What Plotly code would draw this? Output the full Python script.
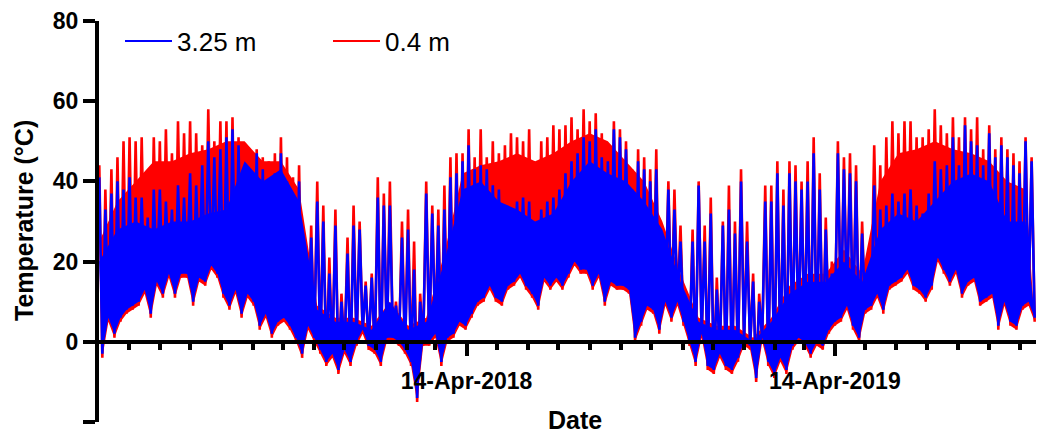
import plotly.graph_objects as go
import pandas as pd

# ---- data ----
START = "2017-04-15"
STEP_DAYS = 6        # one window = 6 days; window max, then window min
BAND_STEP_DAYS = 18  # spacing of the "solid band top" readings

# 0.4 m (red): window maxima / minima
R_HI = [44, 38, 43, 46, 50, 51, 50, 51, 38, 51, 50, 53, 47, 55, 52, 55, 52, 49, 58, 50, 55, 55,
        56, 51, 32, 44, 48, 46, 45, 47, 51, 46, 41, 44, 24, 29, 40, 34, 21, 33, 12, 26, 34, 30,
        15, 17, 41, 37, 40, 10, 30, 33, 25, 12, 40, 34, 33, 39, 46, 47, 47, 53, 46, 53, 46, 50, 47,
        49, 52, 51, 50, 53, 40, 50, 51, 54, 53, 54, 56, 53, 58, 55, 57, 52, 49, 55, 53, 50, 43,
        48, 46, 43, 48, 25, 40, 38, 29, 12, 28, 40, 29, 36, 16, 30, 39, 30, 43, 30, 17, 12, 39, 39,
        45, 38, 45, 44, 40, 45, 51, 42, 31, 20, 50, 46, 47, 44, 30, 16, 49, 44, 51, 55, 52, 55,
        55, 51, 51, 53, 58, 54, 52, 56, 51, 56, 53, 56, 48, 54, 48, 51, 48, 47, 45, 51, 46]
R_LO = [-4, 5, 1, 5, 7, 8, 9, 12, 6, 14, 11, 16, 11, 16, 16, 9, 15, 14, 18, 16, 11, 8,
        12, 6, 11, 9, 3, 6, 1, 4, 5, 3, 0, -4, 3, 0, -3, -6, -4, -8, -3, -6, -1, 2,
        -2, -3, -6, 0, 0, -1, -3, -6, -15, -1, -1, 1, -6, 0, 1, 4, 3, 6, 9, 10, 13, 10, 9,
        13, 14, 16, 13, 11, 8, 15, 13, 15, 13, 16, 19, 17, 17, 13, 16, 9, 14, 13, 13, 12, 0,
        4, 8, 7, 2, 9, 5, 9, 4, -1, -6, 1, -7, -8, -4, -7, -8, -5, -1, -2, -10, 0, -6, -9,
        -5, -8, -2, 0, -1, -4, -1, -2, 2, 4, 5, 8, 3, 0, 7, 8, 11, 7, 13, 14, 15, 17,
        13, 12, 10, 13, 20, 17, 14, 17, 11, 14, 15, 9, 10, 11, 3, 9, 4, 3, 8, 9, 5]
# 0.4 m: top of the solid (densely filled) part of the trace
R_BAND = [25, 35, 40, 45, 45, 47, 48, 50, 50, 45, 45, 38, 9, 6, 6, 4, 10, 4, 6, 22,
          42, 44, 45, 47, 45, 47, 50, 52, 50, 45, 40, 30, 17, 6, 4, 4, 1, 6, 14, 17,
          17, 23, 17, 40, 47, 48, 50, 48, 47, 45, 40, 38]

# 3.25 m (blue): window maxima / minima
B_HI = [41, 33, 37, 40, 38, 41, 36, 36, 31, 38, 38, 35, 33, 39, 36, 42, 39, 44, 50, 46, 48, 51,
        53, 49, 30, 41, 47, 43, 37, 42, 47, 40, 36, 40, 20, 26, 35, 30, 17, 29, 10, 22, 29, 28,
        14, 16, 36, 34, 34, 9, 26, 28, 18, 10, 37, 32, 29, 33, 41, 42, 45, 49, 43, 44, 43, 39, 38,
        33, 32, 35, 36, 35, 28, 33, 35, 36, 38, 42, 45, 47, 51, 50, 53, 46, 45, 53, 51, 48, 38,
        45, 43, 40, 43, 21, 38, 33, 25, 10, 25, 39, 25, 32, 13, 29, 33, 27, 40, 25, 15, 10, 35, 35,
        42, 34, 42, 40, 38, 40, 47, 38, 28, 17, 47, 43, 42, 40, 27, 13, 39, 33, 34, 37, 35, 37,
        38, 34, 32, 37, 45, 43, 44, 51, 44, 54, 50, 49, 44, 52, 46, 49, 46, 44, 42, 50, 45]
B_LO = [-3, 6, 2, 6, 8, 9, 10, 13, 7, 15, 12, 17, 12, 17, 17, 10, 16, 15, 19, 17, 12, 9,
        13, 7, 12, 10, 4, 7, 2, 5, 6, 4, 1, -3, 4, 1, -2, -5, -3, -7, -2, -5, 0, 3,
        -1, -2, -5, 1, 1, 0, -2, -5, -14, 0, 0, 2, -5, 1, 2, 5, 4, 7, 10, 11, 14, 11, 10,
        14, 15, 17, 14, 12, 9, 16, 14, 16, 14, 17, 20, 18, 18, 14, 17, 10, 15, 14, 14, 13, 1,
        5, 9, 8, 3, 10, 6, 10, 5, 0, -5, 2, -6, -7, -3, -6, -7, -4, 0, -1, -9, 1, -5, -8,
        -4, -7, -1, 1, 0, -3, 0, -1, 3, 5, 6, 9, 4, 1, 8, 9, 12, 8, 14, 15, 16, 18,
        14, 13, 11, 14, 21, 18, 15, 18, 12, 15, 16, 10, 11, 12, 4, 10, 5, 4, 9, 10, 6]
# 3.25 m: top of the solid (densely filled) part of the trace
B_BAND = [20, 28, 30, 28, 30, 30, 32, 33, 45, 40, 43, 35, 8, 5, 5, 3, 10, 3, 5, 20,
          38, 40, 35, 33, 30, 32, 40, 45, 42, 40, 35, 28, 15, 5, 3, 3, 0, 5, 12, 15,
          15, 20, 15, 28, 32, 30, 35, 40, 42, 40, 30, 30]

MAJOR_TICKS = ["2018-04-14", "2019-04-14"]
MAJOR_TEXT = ["14-Apr-2018", "14-Apr-2019"]
Y_TICKS = [-20, 0, 20, 40, 60, 80]

FONT = "Liberation Sans, Arial, sans-serif"
RED = "#ff0000"
BLUE = "#0000ff"
T0 = pd.Timestamp(START)


def zigzag(hi, lo):
    """Daily-cycle trace: window max, then window min half a window later."""
    xs, ys = [], []
    for i, (h, l) in enumerate(zip(hi, lo)):
        xs.append(T0 + pd.Timedelta(days=STEP_DAYS * i))
        ys.append(h)
        xs.append(T0 + pd.Timedelta(days=STEP_DAYS * i + STEP_DAYS / 2))
        ys.append(l)
    return xs, ys


def band(top, lo):
    """Filled region between the solid-band top and the minimum envelope."""
    xt = [T0 + pd.Timedelta(days=BAND_STEP_DAYS * k) for k in range(len(top))]
    xl = [T0 + pd.Timedelta(days=STEP_DAYS * i + STEP_DAYS / 2) for i in range(len(lo))]
    return xt + xl[::-1], list(top) + list(lo)[::-1]


fig = go.Figure()
for hi, lo, top, col in ((R_HI, R_LO, R_BAND, RED), (B_HI, B_LO, B_BAND, BLUE)):
    bx, by = band(top, lo)
    fig.add_trace(go.Scatter(x=bx, y=by, mode="lines", fill="toself", fillcolor=col,
                             line=dict(color=col, width=0), showlegend=False, hoverinfo="skip"))
    zx, zy = zigzag(hi, lo)
    fig.add_trace(go.Scatter(x=zx, y=zy, mode="lines", line=dict(color=col, width=2.6),
                             showlegend=False, hoverinfo="skip"))

# legend entries (thin line symbols)
fig.add_trace(go.Scatter(x=[None], y=[None], mode="lines", name="3.25 m", legendrank=1,
                         line=dict(color=BLUE, width=2)))
fig.add_trace(go.Scatter(x=[None], y=[None], mode="lines", name="0.4 m", legendrank=2,
                         line=dict(color=RED, width=2)))

# minor ticks on the 14th of every month
minor_vals = []
m = pd.Timestamp("2017-05-14")
while m <= pd.Timestamp("2019-10-14"):
    s = m.strftime("%Y-%m-%d")
    if s not in MAJOR_TICKS:
        minor_vals.append(s)
    m = m + pd.DateOffset(months=1)

OFF = 8                      # page body margin
W, H = 1044 - OFF, 434 - OFF
L, R, T, B = 91, 0, 13, 12
PW, PH = W - L - R, H - T - B
px_per_day = 1.009
x0 = pd.Timestamp("2017-04-14") + pd.Timedelta(days=0.7)
x1 = x0 + pd.Timedelta(days=PW / px_per_day)


def px_x(sx):   # screen x -> paper x
    return (sx - OFF - L) / PW


def px_y(sy):   # screen y -> paper y
    return (H - B - (sy - OFF)) / PH


fig.update_layout(
    width=W, height=H,
    margin=dict(l=L, r=R, t=T, b=B, autoexpand=False),
    paper_bgcolor="white", plot_bgcolor="white",
    font=dict(family=FONT, color="black"),
    showlegend=True,
    legend=dict(orientation="h", x=px_x(120), xanchor="left", y=px_y(41),
                yanchor="middle", font=dict(family=FONT, size=26, color="black"),
                itemwidth=47, entrywidth=146, entrywidthmode="pixels",
                bgcolor="rgba(0,0,0,0)"),
    xaxis=dict(type="date", range=[x0, x1], anchor="free", position=0.2,
               showline=True, linewidth=4, linecolor="black", showgrid=False, zeroline=False,
               ticks="outside", tickvals=MAJOR_TICKS, ticktext=MAJOR_TEXT,
               ticklen=12, tickwidth=3.5, tickcolor="black",
               tickfont=dict(family=FONT, size=23, color="black", weight="bold"),
               ticklabelstandoff=6,
               minor=dict(tickvals=minor_vals, ticks="outside", ticklen=6, tickwidth=3.5,
                          tickcolor="black", showgrid=False)),
    yaxis=dict(range=[-20, 80], tickvals=Y_TICKS, showline=True, linewidth=4, linecolor="black",
               showgrid=False, zeroline=False, ticks="outside", ticklen=12, tickwidth=3.5,
               tickcolor="black",
               tickfont=dict(family=FONT, size=23, color="black", weight="bold")),
    annotations=[
        dict(text="Date", xref="paper", yref="paper", x=px_x(575), y=px_y(420),
             xanchor="center", yanchor="middle", showarrow=False,
             font=dict(family=FONT, size=25, color="black", weight="bold")),
        dict(text="Temperature (°C)", xref="paper", yref="paper",
             x=px_x(24), y=px_y(221), textangle=-90,
             xanchor="center", yanchor="middle", showarrow=False,
             font=dict(family=FONT, size=25, color="black", weight="bold")),
    ],
)

fig.write_html("out.html")
